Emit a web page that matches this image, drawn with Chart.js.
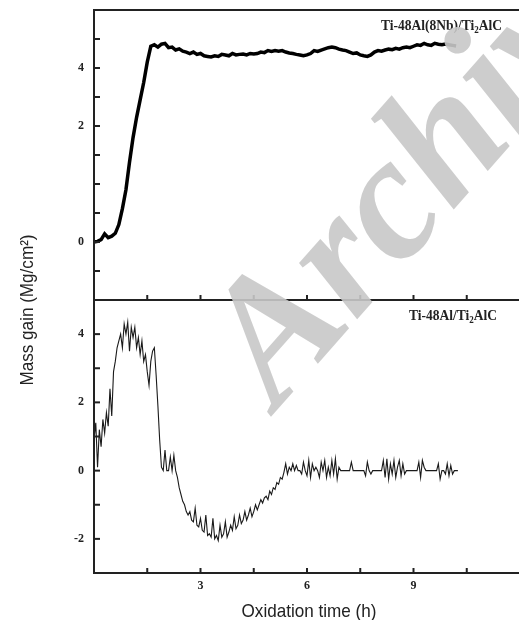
<!DOCTYPE html>
<html>
<head>
<meta charset="utf-8">
<script src="https://cdn.jsdelivr.net/npm/chart.js@4.4.1/dist/chart.umd.min.js"></script>
<style>
  html, body { margin: 0; padding: 0; overflow: hidden; background: #fff; }
  #wrap { width: 519px; height: 620px; overflow: hidden; }
</style>
</head>
<body>
<div id="wrap"><canvas id="myChart" width="524" height="620"></canvas></div>
<script>
// top panel: Ti-48Al(8Nb)/Ti2AlC  (values in tick units of the top axis)
var topTime = [0,0.1,0.2,0.3,0.4,0.5,0.6,0.7,0.8,0.9,
  1,1.1,1.2,1.3,1.4,1.5,1.6,1.7,1.8,1.9,
  2,2.1,2.2,2.3,2.4,2.5,2.6,2.7,2.8,2.9,
  3,3.1,3.2,3.3,3.4,3.5,3.6,3.7,3.8,3.9,
  4,4.1,4.2,4.3,4.4,4.5,4.6,4.7,4.8,4.9,
  5,5.1,5.2,5.3,5.4,5.5,5.6,5.7,5.8,5.9,
  6,6.1,6.2,6.3,6.4,6.5,6.6,6.7,6.8,6.9,
  7,7.1,7.2,7.3,7.4,7.5,7.6,7.7,7.8,7.9,
  8,8.1,8.2,8.3,8.4,8.5,8.6,8.7,8.8,8.9,
  9,9.1,9.2,9.3,9.4,9.5,9.6,9.7,9.8,9.9,
  10,10.1,10.2];
var topMass = [-2.0,-1.98,-1.92,-1.72,-1.85,-1.8,-1.7,-1.4,-0.85,-0.2,
  0.75,1.6,2.3,2.9,3.5,4.2,4.75,4.8,4.72,4.82,
  4.85,4.7,4.72,4.62,4.66,4.58,4.55,4.5,4.55,4.47,
  4.5,4.42,4.4,4.38,4.42,4.4,4.47,4.45,4.42,4.5,
  4.45,4.47,4.48,4.45,4.5,4.48,4.5,4.55,4.53,4.6,
  4.57,4.6,4.58,4.6,4.55,4.52,4.5,4.47,4.45,4.42,
  4.45,4.5,4.6,4.57,4.62,4.66,4.7,4.72,4.7,4.65,
  4.62,4.6,4.55,4.5,4.52,4.45,4.42,4.4,4.45,4.55,
  4.6,4.58,4.62,4.65,4.63,4.68,4.65,4.7,4.72,4.7,
  4.75,4.8,4.78,4.85,4.8,4.78,4.85,4.82,4.8,4.83,
  4.8,4.78,4.76];

// bottom panel: Ti-48Al/Ti2AlC
var bottomTime = [0,0.05,0.1,0.15,0.2,0.25,0.3,0.35,0.4,0.45,
  0.5,0.55,0.6,0.65,0.7,0.75,0.8,0.85,0.9,0.95,
  1,1.05,1.1,1.15,1.2,1.25,1.3,1.35,1.4,1.45,
  1.5,1.55,1.6,1.65,1.7,1.75,1.8,1.85,1.9,1.95,
  2,2.05,2.1,2.15,2.2,2.25,2.3,2.35,2.4,2.45,
  2.5,2.55,2.6,2.65,2.7,2.75,2.8,2.85,2.9,2.95,
  3,3.05,3.1,3.15,3.2,3.25,3.3,3.35,3.4,3.45,
  3.5,3.55,3.6,3.65,3.7,3.75,3.8,3.85,3.9,3.95,
  4,4.05,4.1,4.15,4.2,4.25,4.3,4.35,4.4,4.45,
  4.5,4.55,4.6,4.65,4.7,4.75,4.8,4.85,4.9,4.95,
  5,5.05,5.1,5.15,5.2,5.25,5.3,5.35,5.4,5.45,
  5.5,
  5.55,5.6,5.65,5.7,5.75,5.8,5.85,5.9,5.95,6,
  6.05,6.1,6.15,6.2,6.25,6.3,6.35,6.4,6.45,6.5,
  6.55,6.6,6.65,6.7,6.75,6.8,6.85,6.9,6.95,7,
  7.05,7.1,7.15,7.2,7.25,7.3,7.35,7.4,7.45,7.5,
  7.55,7.6,7.65,7.7,7.75,7.8,7.85,7.9,7.95,8,
  8.05,8.1,8.15,8.2,8.25,8.3,8.35,8.4,8.45,8.5,
  8.55,8.6,8.65,8.7,8.75,8.8,8.85,8.9,8.95,9,
  9.05,9.1,9.15,9.2,9.25,9.3,9.35,9.4,9.45,9.5,
  9.55,9.6,9.65,9.7,9.75,9.8,9.85,9.9,9.95,10,
  10.05,10.1,10.15,10.2,10.25];
var bottomMass = [0.9,1.4,0.1,1.2,0.7,1.5,1.1,1.7,1.3,2.4,
  1.6,2.9,3.2,3.6,3.8,4.0,3.6,4.3,4.0,4.35,
  3.5,4.2,3.9,4.2,3.6,3.9,3.4,3.8,3.2,3.4,
  2.9,2.5,3.2,3.5,3.6,2.8,1.9,0.9,0.1,0.0,
  0.6,0.0,0.0,0.4,0.0,0.45,0.0,-0.2,-0.5,-0.7,
  -0.9,-1.0,-1.2,-1.3,-1.2,-1.45,-1.5,-1.1,-1.6,-1.65,
  -1.4,-1.75,-1.8,-1.3,-1.9,-1.85,-1.95,-1.4,-2.0,-1.9,
  -2.05,-1.6,-1.95,-1.85,-1.5,-1.95,-1.8,-1.6,-1.75,-1.35,
  -1.7,-1.6,-1.3,-1.55,-1.45,-1.2,-1.45,-1.3,-1.1,-1.35,
  -1.2,-1.0,-1.15,-1.0,-0.85,-0.95,-0.8,-0.75,-0.85,-0.6,
  -0.7,-0.5,-0.55,-0.35,-0.4,-0.2,-0.25,-0.05,0.2,-0.1,
  0.1,
  0.0,0.2,0.0,0.15,0.0,0.0,-0.1,0.25,0.0,-0.15,
  0.3,-0.2,0.2,0.0,0.1,0.0,-0.2,0.25,0.0,0.3,
  -0.2,0.1,-0.15,0.3,-0.1,0.35,-0.25,0.1,0.0,0.0,
  0.0,0.0,0.0,0.0,0.25,0.0,0.0,0.0,0.0,0.0,
  0.0,0.0,-0.15,0.25,0.0,-0.1,0.0,0.0,0.0,0.0,
  0.0,0.0,0.3,-0.2,0.35,-0.25,0.2,-0.1,0.3,-0.2,
  0.1,0.3,-0.15,0.2,-0.1,0.0,0.0,0.0,0.0,0.0,
  0.0,0.0,0.25,-0.2,0.3,0.1,0.0,0.0,0.0,0.0,
  0.0,0.0,0.0,0.2,-0.25,0.0,0.0,-0.1,0.2,-0.15,
  0.15,-0.1,0.0,0.0,0.0];

// ticks and labels
var xTickValues = [1.5, 3, 4.5, 6, 7.5, 9, 10.5];
var xTickLabels = { '3': '3', '6': '6', '9': '9' };
var topTickValues = [-3, -2, -1, 0, 1, 2, 3, 4, 5];
var topTickLabels = { '4': '4', '2': '2', '-2': '0' };
var bottomTickValues = [-2, -1, 0, 1, 2, 3, 4];
var bottomTickLabels = { '4': '4', '2': '2', '0': '0', '-2': '-2' };
var topTitle = ['Ti-48Al(8Nb)/Ti', '2', 'AlC'];
var bottomTitle = ['Ti-48Al/Ti', '2', 'AlC'];
var yTitle = 'Mass gain (Mg/cm\u00B2)';
var xTitle = 'Oxidation time (h)';

function toPoints(xs, ys) {
  return xs.map(function (t, i) { return { x: t, y: ys[i] }; });
}

var tickFont = { family: '"Liberation Serif", serif', size: 12, weight: 'bold' };

function drawSubTitle(ctx, parts, right, base) {
  ctx.save();
  ctx.translate(right, base);
  ctx.scale(0.9, 1);
  ctx.fillStyle = '#222';
  ctx.textBaseline = 'alphabetic';
  ctx.textAlign = 'left';
  var big = 'bold 15px "Liberation Serif"', small = 'bold 10px "Liberation Serif"';
  ctx.font = big; var w0 = ctx.measureText(parts[0]).width, w2 = ctx.measureText(parts[2]).width;
  ctx.font = small; var w1 = ctx.measureText(parts[1]).width;
  var x = -(w0 + w1 + w2);
  ctx.font = big; ctx.fillText(parts[0], x, 0);
  ctx.font = small; ctx.fillText(parts[1], x + w0, 3);
  ctx.font = big; ctx.fillText(parts[2], x + w0 + w1, 0);
  ctx.restore();
}

// y axes: fixed width, no extra label overflow padding
function fitY(s) {
  s.width = 94;
  s.paddingTop = 0;
  s.paddingBottom = 0;
}

var framePlugin = {
  id: 'frame',
  afterDatasetsDraw: function (chart) {
    var ctx = chart.ctx, x = chart.scales.x;
    var panels = [chart.scales.yTop, chart.scales.yBottom];
    ctx.save();
    ctx.strokeStyle = '#222';
    ctx.lineWidth = 2;
    panels.forEach(function (s) {
      ctx.strokeRect(x.left, s.top, x.right - x.left, s.bottom - s.top);
      s.ticks.forEach(function (t) {
        var py = s.getPixelForValue(t.value);
        ctx.beginPath(); ctx.moveTo(x.left, py); ctx.lineTo(x.left + 6, py); ctx.stroke();
      });
      xTickValues.forEach(function (v) {
        var px = x.getPixelForValue(v);
        ctx.beginPath(); ctx.moveTo(px, s.bottom); ctx.lineTo(px, s.bottom - 5); ctx.stroke();
      });
    });
    ctx.restore();

    drawSubTitle(ctx, topTitle, 502, 30);
    drawSubTitle(ctx, bottomTitle, 497, 320);

    // axis titles
    ctx.save();
    ctx.fillStyle = '#222';
    ctx.font = '19px "Liberation Sans"';
    ctx.textAlign = 'center';
    ctx.textBaseline = 'alphabetic';
    ctx.save();
    ctx.translate(309, 617);
    ctx.scale(0.9, 1);
    ctx.fillText(xTitle, 0, 0);
    ctx.restore();
    ctx.save();
    ctx.translate(33, 310);
    ctx.rotate(-Math.PI / 2);
    ctx.scale(0.9, 1);
    ctx.fillText(yTitle, 0, 0);
    ctx.restore();
    ctx.restore();
  },
  afterDraw: function (chart) {
    // grey watermark over the plot
    var ctx = chart.ctx;
    ctx.save();
    ctx.translate(277, 410);
    ctx.rotate(-Math.PI * 0.27);
    ctx.fillStyle = 'rgba(200,200,200,0.9)';
    ctx.font = 'italic bold 176px "Liberation Serif"';
    ctx.fillText('Archive', 0, 0);
    ctx.restore();
  }
};

var ctx = document.getElementById('myChart').getContext('2d');
var myChart = new Chart(ctx, {
  type: 'line',
  data: {
    datasets: [
      {
        label: 'Ti-48Al(8Nb)/Ti2AlC',
        data: toPoints(topTime, topMass),
        yAxisID: 'yTop',
        borderColor: '#000',
        borderWidth: 3.5,
        pointRadius: 0,
        tension: 0
      },
      {
        label: 'Ti-48Al/Ti2AlC',
        data: toPoints(bottomTime, bottomMass),
        yAxisID: 'yBottom',
        borderColor: '#1a1a1a',
        borderWidth: 1.1,
        pointRadius: 0,
        tension: 0
      }
    ]
  },
  options: {
    responsive: false,
    devicePixelRatio: 1,
    animation: false,
    layout: { padding: { top: 10, right: 4, left: 0, bottom: 0 } },
    plugins: { legend: { display: false }, tooltip: { enabled: false } },
    scales: {
      x: {
        type: 'linear', position: 'bottom', min: 0, max: 12,
        grid: { display: false, drawTicks: false },
        border: { display: false },
        afterBuildTicks: function (s) { s.ticks = xTickValues.map(function (v) { return { value: v }; }); },
        afterFit: function (s) { s.height = 47; s.paddingLeft = 0; s.paddingRight = 0; },
        ticks: {
          autoSkip: false, maxRotation: 0, padding: 6, color: '#222', font: tickFont,
          callback: function (v) { return xTickLabels[v] || ''; }
        }
      },
      // stacked axes are placed bottom-up in definition order
      yBottom: {
        type: 'linear', position: 'left', stack: 'panels', stackWeight: 273,
        min: -3, max: 5,
        grid: { display: false, drawTicks: false },
        border: { display: false },
        afterBuildTicks: function (s) { s.ticks = bottomTickValues.map(function (v) { return { value: v }; }); },
        afterFit: fitY,
        ticks: {
          autoSkip: false, padding: 10, color: '#222', font: tickFont,
          callback: function (v) { return bottomTickLabels[v] || ''; }
        }
      },
      yTop: {
        type: 'linear', position: 'left', stack: 'panels', stackWeight: 290,
        min: -4, max: 6,
        grid: { display: false, drawTicks: false },
        border: { display: false },
        afterBuildTicks: function (s) { s.ticks = topTickValues.map(function (v) { return { value: v }; }); },
        afterFit: fitY,
        ticks: {
          autoSkip: false, padding: 10, color: '#222', font: tickFont,
          callback: function (v) { return topTickLabels[v] || ''; }
        }
      }
    }
  },
  plugins: [framePlugin]
});
</script>
</body>
</html>
